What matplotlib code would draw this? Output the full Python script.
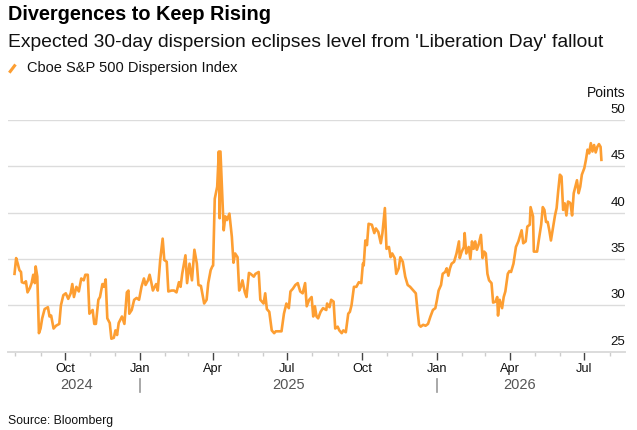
import numpy as np
import pandas as pd
import matplotlib
matplotlib.use("Agg")
from matplotlib import pyplot as plt
import matplotlib.dates as mdates
from matplotlib.lines import Line2D

plt.rcParams['font.family'] = ['Liberation Sans', 'DejaVu Sans']

"""
Cboe S&P 500 Dispersion Index, values read off the chart
"""
dates = [
    "2024-07-31", "2024-08-02", "2024-08-04", "2024-08-06", "2024-08-08", "2024-08-09",
    "2024-08-12", "2024-08-14", "2024-08-16", "2024-08-19", "2024-08-21", "2024-08-23",
    "2024-08-25", "2024-08-26", "2024-08-28", "2024-08-30", "2024-09-01", "2024-09-03",
    "2024-09-06", "2024-09-10", "2024-09-12", "2024-09-14", "2024-09-17", "2024-09-20",
    "2024-09-24", "2024-09-26", "2024-09-29", "2024-10-02", "2024-10-05", "2024-10-08",
    "2024-10-10", "2024-10-12", "2024-10-15", "2024-10-18", "2024-10-21", "2024-10-24",
    "2024-10-26", "2024-10-29", "2024-10-31", "2024-11-04", "2024-11-06", "2024-11-08",
    "2024-11-11", "2024-11-13", "2024-11-16", "2024-11-18", "2024-11-20", "2024-11-22",
    "2024-11-25", "2024-11-27", "2024-11-30", "2024-12-02", "2024-12-04", "2024-12-06",
    "2024-12-10", "2024-12-13", "2024-12-16", "2024-12-18", "2024-12-19", "2024-12-22",
    "2024-12-25", "2024-12-28", "2024-12-31",
    "2025-01-03", "2025-01-06", "2025-01-08", "2025-01-11", "2025-01-13", "2025-01-15",
    "2025-01-17", "2025-01-21", "2025-01-23", "2025-01-26", "2025-01-29", "2025-01-31",
    "2025-02-03", "2025-02-05", "2025-02-09", "2025-02-12", "2025-02-15", "2025-02-18",
    "2025-02-20", "2025-02-22", "2025-02-26", "2025-02-28", "2025-03-03", "2025-03-06",
    "2025-03-09", "2025-03-12", "2025-03-14", "2025-03-17", "2025-03-21", "2025-03-24",
    "2025-03-26", "2025-03-29", "2025-03-31", "2025-04-01", "2025-04-03", "2025-04-06",
    "2025-04-08", "2025-04-09", "2025-04-10", "2025-04-12", "2025-04-14", "2025-04-16",
    "2025-04-18", "2025-04-21", "2025-04-24", "2025-04-26", "2025-04-28", "2025-05-01",
    "2025-05-03", "2025-05-05", "2025-05-07", "2025-05-10", "2025-05-12", "2025-05-15",
    "2025-05-17", "2025-05-21", "2025-05-23", "2025-05-27", "2025-05-29", "2025-06-02",
    "2025-06-04", "2025-06-06", "2025-06-09", "2025-06-12", "2025-06-15", "2025-06-17",
    "2025-06-21", "2025-06-24", "2025-06-27", "2025-06-30", "2025-07-03", "2025-07-05",
    "2025-07-08", "2025-07-11", "2025-07-14", "2025-07-17", "2025-07-20", "2025-07-23",
    "2025-07-25", "2025-07-28", "2025-07-31", "2025-08-02", "2025-08-04", "2025-08-06",
    "2025-08-08", "2025-08-11", "2025-08-14", "2025-08-18", "2025-08-19", "2025-08-22",
    "2025-08-24", "2025-08-27", "2025-08-29", "2025-09-01", "2025-09-03", "2025-09-06",
    "2025-09-08", "2025-09-11", "2025-09-14", "2025-09-16", "2025-09-18", "2025-09-21",
    "2025-09-24", "2025-09-27", "2025-09-30", "2025-10-02", "2025-10-03", "2025-10-05",
    "2025-10-07", "2025-10-09", "2025-10-13", "2025-10-16", "2025-10-18", "2025-10-21",
    "2025-10-24", "2025-10-26", "2025-10-29", "2025-10-31", "2025-11-03", "2025-11-05",
    "2025-11-07", "2025-11-10", "2025-11-12", "2025-11-15", "2025-11-17", "2025-11-20",
    "2025-11-23", "2025-11-26", "2025-11-29", "2025-12-03", "2025-12-06", "2025-12-08",
    "2025-12-10", "2025-12-12", "2025-12-15", "2025-12-18", "2025-12-21", "2025-12-24",
    "2025-12-27", "2025-12-30",
    "2026-01-01", "2026-01-03", "2026-01-06", "2026-01-08", "2026-01-11", "2026-01-13",
    "2026-01-15", "2026-01-17", "2026-01-19", "2026-01-22", "2026-01-25", "2026-01-28",
    "2026-01-29", "2026-01-31", "2026-02-03", "2026-02-04", "2026-02-06", "2026-02-09",
    "2026-02-11", "2026-02-13", "2026-02-15", "2026-02-17", "2026-02-19", "2026-02-21",
    "2026-02-24", "2026-02-26", "2026-02-28", "2026-03-02", "2026-03-04", "2026-03-06",
    "2026-03-09", "2026-03-11", "2026-03-14", "2026-03-16", "2026-03-17", "2026-03-19",
    "2026-03-22", "2026-03-24", "2026-03-26", "2026-03-29", "2026-03-31", "2026-04-02",
    "2026-04-05", "2026-04-08", "2026-04-11", "2026-04-15", "2026-04-17", "2026-04-20",
    "2026-04-22", "2026-04-25", "2026-04-26", "2026-04-29", "2026-04-30", "2026-05-04",
    "2026-05-06", "2026-05-09", "2026-05-11", "2026-05-13", "2026-05-15", "2026-05-17",
    "2026-05-19", "2026-05-21", "2026-05-23", "2026-05-26", "2026-05-28", "2026-05-30",
    "2026-06-01", "2026-06-03", "2026-06-05", "2026-06-07", "2026-06-09", "2026-06-11",
    "2026-06-13", "2026-06-14", "2026-06-16", "2026-06-18", "2026-06-20", "2026-06-22",
    "2026-06-24", "2026-06-26", "2026-06-28", "2026-07-01", "2026-07-03", "2026-07-05",
    "2026-07-07", "2026-07-09", "2026-07-11", "2026-07-13", "2026-07-15", "2026-07-17",
    "2026-07-19", "2026-07-21", "2026-07-22",
]

values = [
    33.4, 35.1, 34.5, 33.8, 33.6, 32.5,
    32.4, 32.6, 31.4, 31.9, 32.4, 33.3,
    32.4, 34.2, 33.1, 27.0, 27.5, 28.6,
    29.6, 29.8, 28.8, 28.9, 27.5, 27.8,
    28.0, 30.0, 31.1, 31.3, 30.7, 31.3,
    32.3, 30.9, 32.0, 31.5, 32.9, 32.7,
    33.3, 33.3, 29.1, 29.5, 28.0, 28.0,
    30.6, 30.9, 32.3, 32.0, 32.8, 28.6,
    28.1, 26.4, 26.5, 27.3, 26.8, 28.1,
    28.8, 28.0, 31.4, 31.6, 29.1, 29.5,
    30.6, 30.8, 30.6,
    32.0, 32.9, 32.2, 32.7, 33.3, 32.5,
    31.6, 32.3, 31.6, 34.9, 37.2, 34.9,
    34.7, 31.5, 31.6, 31.6, 31.4, 32.5,
    32.0, 33.4, 35.4, 32.4, 34.5, 32.7,
    36.0, 34.5, 32.2, 32.1, 30.2, 30.6,
    32.4, 33.8, 34.2, 34.3, 41.5, 42.8,
    46.6, 39.4, 46.6, 42.4, 38.1, 39.6,
    39.2, 39.9, 37.4, 34.6, 35.6, 35.2,
    31.6, 32.0, 32.7, 31.4, 30.9, 33.5,
    33.4, 33.1, 33.4, 33.6, 30.6, 30.2,
    31.3, 29.6, 29.3, 27.3, 27.0, 27.2,
    27.2, 27.2, 29.1, 30.2, 29.7, 31.5,
    31.8, 32.2, 32.4, 31.5, 31.3, 32.4,
    29.9, 30.6, 30.9, 28.8, 29.9, 28.8,
    28.6, 29.3, 29.7, 29.5, 30.2, 29.8,
    30.6, 30.4, 27.5, 27.7, 27.3, 27.0,
    27.3, 27.1, 29.1, 29.3, 30.0, 32.0,
    32.0, 32.5, 32.4, 34.5, 34.3, 37.0,
    36.5, 38.8, 38.7, 37.8, 38.3, 37.9,
    36.7, 37.8, 40.5, 36.1, 36.3, 35.2,
    35.6, 35.1, 33.4, 34.0, 35.2, 34.7,
    33.1, 32.2, 32.0, 31.6, 31.3, 29.5,
    27.9, 27.7, 27.9, 27.8, 28.0, 28.8,
    29.5, 29.7,
    30.6, 31.6, 32.2, 33.4, 33.6, 34.0,
    33.2, 34.0, 34.5, 34.7, 35.6, 36.9,
    35.1, 35.7, 36.3, 37.8, 35.6, 36.3,
    35.0, 36.9, 36.1, 36.9, 36.0, 36.5,
    37.6, 35.1, 35.8, 35.6, 33.4, 32.7,
    32.4, 30.3, 30.4, 30.9, 28.9, 30.6,
    29.7, 30.9, 31.5, 33.4, 33.7, 33.6,
    34.5, 36.3, 36.9, 38.1, 36.7, 36.9,
    38.5, 38.7, 40.6, 39.6, 35.8, 35.8,
    37.0, 38.7, 40.6, 40.3, 39.0, 39.0,
    38.1, 37.0, 38.1, 39.7, 40.5, 42.4,
    44.1, 43.9, 40.3, 41.0, 39.7, 41.2,
    41.1, 41.0, 39.7, 42.1, 42.8, 43.5,
    42.1, 42.8, 44.1, 44.8, 45.7, 46.8,
    46.4, 47.5, 46.6, 47.3, 46.5, 47.1,
    47.4, 47.1, 45.7,
]

y_ticks = [25, 30, 35, 40, 45, 50]
years = [2024, 2025, 2026]

title = "Divergences to Keep Rising"
subtitle = "Expected 30-day dispersion eclipses level from 'Liberation Day' fallout"
series_name = "Cboe S&P 500 Dispersion Index"
source = "Source: Bloomberg"

ORANGE = "#fd9e32"
GRID = "#dcdcdc"

x = pd.to_datetime(dates)

fig = plt.figure(figsize=(6.37, 4.30), dpi=100)
ax = fig.add_axes([8 / 637, 1 - 351.7 / 430, 617 / 637, 231.7 / 430])

ax.plot(x, values, color=ORANGE, linewidth=1.9, solid_joinstyle="round")

ax.set_ylim(25, 50)
ax.set_xlim(pd.Timestamp("2024-07-23"), pd.Timestamp("2026-08-20"))

# horizontal grid, labels sit on top of the lines at the right
ax.set_yticks(y_ticks)
ax.yaxis.grid(True, color=GRID, linewidth=1.0)
ax.tick_params(axis="y", length=0, labelleft=False, labelright=False)
for v in y_ticks:
    ax.text(1.0, v + 0.75, str(v), transform=ax.get_yaxis_transform(),
            ha="right", va="baseline", fontsize=9.5, color="#111111")

for s in ["top", "right", "left"]:
    ax.spines[s].set_visible(False)
ax.spines["bottom"].set_color(GRID)
ax.spines["bottom"].set_linewidth(1.4)
ax.set_axisbelow(True)

ax.xaxis.set_major_locator(mdates.MonthLocator(bymonth=[1, 4, 7, 10]))
ax.xaxis.set_major_formatter(mdates.DateFormatter("%b"))
ax.xaxis.set_minor_locator(mdates.MonthLocator())
ax.tick_params(axis="x", which="major", length=6, width=1, color="#444444",
               labelsize=9.2, pad=2, labelcolor="#111111")
ax.tick_params(axis="x", which="minor", length=3, width=1, color="#cccccc")

# year labels, centred over the part of the data in each year
for yr in years:
    in_year = x[(x.year == yr)]
    mid = in_year.min() + (in_year.max() - in_year.min()) / 2
    ax.text(mid, -0.162, str(yr), transform=ax.get_xaxis_transform(),
            ha="center", va="baseline", fontsize=10.5, color="#555555")
    if yr != years[0]:
        start = pd.Timestamp(f"{yr}-01-01")
        ax.plot([start, start], [-0.118, -0.172], transform=ax.get_xaxis_transform(),
                color="#999999", linewidth=1.2, clip_on=False)

fig.text(8 / 637, 1 - 19.5 / 430, title, fontsize=14.3, fontweight="bold",
         ha="left", va="baseline", color="#000000")
fig.text(8 / 637, 1 - 47 / 430, subtitle, fontsize=13.85,
         ha="left", va="baseline", color="#111111")
fig.add_artist(Line2D([9.3 / 637, 15.5 / 637], [1 - 72.7 / 430, 1 - 64.5 / 430],
                      color=ORANGE, linewidth=2.2, solid_capstyle="butt"))
fig.text(27.3 / 637, 1 - 71.7 / 430, series_name, fontsize=10.5,
         ha="left", va="baseline", color="#111111")
fig.text(626 / 637, 1 - 97.3 / 430, "Points", fontsize=10,
         ha="right", va="baseline", color="#111111")
fig.text(8 / 637, 1 - 424.3 / 430, source, fontsize=8.8,
         ha="left", va="baseline", color="#111111")

fig.savefig("out.png", dpi=100)
